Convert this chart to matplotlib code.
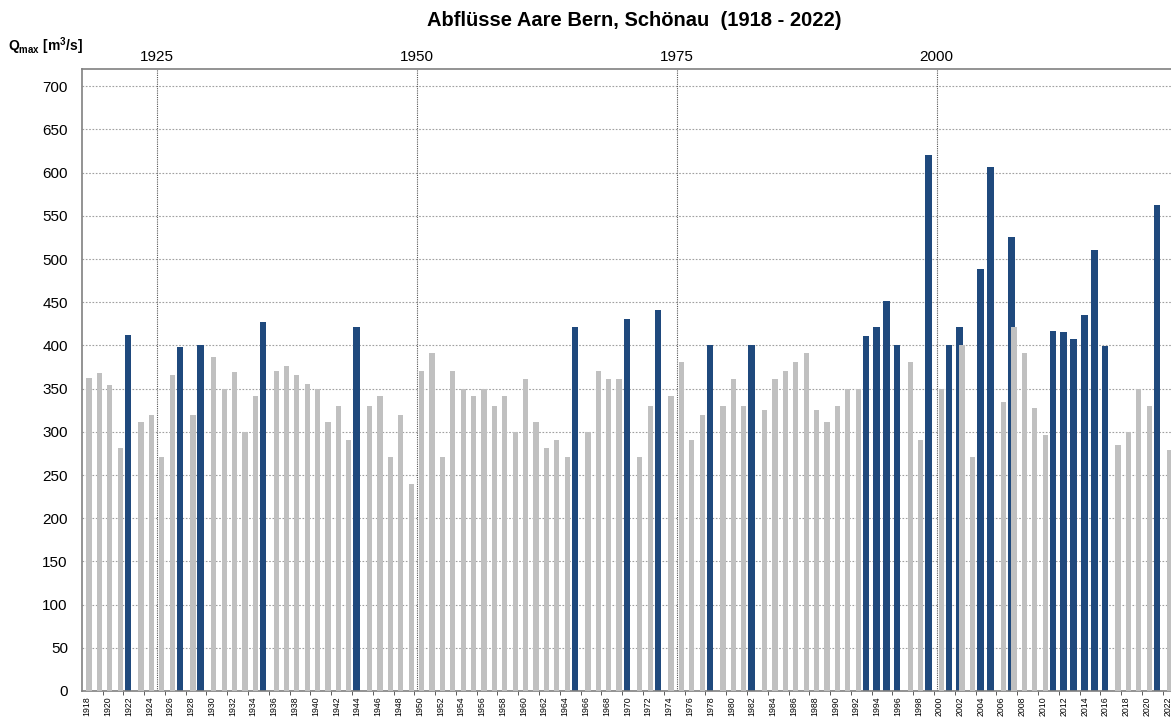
import numpy as np
import matplotlib.pyplot as plt

plt.rcParams['font.family'] = ['Liberation Sans', 'DejaVu Sans']
plt.rcParams['mathtext.fontset'] = 'custom'
plt.rcParams['mathtext.rm'] = 'Liberation Sans'
plt.rcParams['mathtext.bf'] = 'Liberation Sans:bold'

# Jahreshoechstwerte (grau) - 0 wo nur ein blauer Balken steht
years = np.arange(1918, 2023)
grey_q = [362, 368,
          354, 281, 0, 311, 320, 271, 366, 0, 320, 0,
          387, 350, 369, 300, 341, 0, 370, 376, 366, 355,
          350, 311, 330, 290, 0, 330, 341, 271, 320, 240,
          370, 391, 271, 370, 350, 341, 350, 330, 341, 300,
          361, 311, 281, 290, 271, 0, 300, 370, 361, 361,
          0, 271, 330, 0, 341, 381, 290, 320, 0, 330,
          361, 330, 0, 325, 361, 370, 381, 391, 325, 311,
          330, 350, 350, 0, 0, 0, 0, 381, 290, 0,
          350, 0, 400, 271, 0, 0, 335, 421, 391, 327,
          296, 0, 0, 0, 0, 0, 0, 285, 300, 349,
          330, 0, 279]

# Hochwasserjahre (blau)
blue_years = [1922, 1927, 1929, 1935, 1944, 1965, 1970, 1973, 1978, 1982,
              1993, 1994, 1995, 1996, 1999, 2001, 2002, 2004, 2005, 2007,
              2011, 2012, 2013, 2014, 2015, 2016, 2021]
blue_q = [412, 398, 400, 427, 421, 421, 431, 441, 401, 401,
          411, 421, 451, 401, 621, 401, 421, 489, 606, 525,
          417, 415, 407, 435, 511, 399, 563]

marker_years = [1925, 1950, 1975, 2000]

fig = plt.figure(figsize=(11.71, 7.17), dpi=100)
ax = fig.add_axes([0.0698, 0.0363, 0.9302, 0.8675])

ax.bar(np.array(blue_years) - 0.05, blue_q, width=0.64, color='#1F497D', zorder=2)
ax.bar(years + 0.2, grey_q, width=0.5, color='#C0C0C0', zorder=3)

ax.set_xlim(1917.5, 2022.3)
ax.set_ylim(0, 720)

ax.set_yticks(np.arange(0, 701, 50))
ax.yaxis.grid(True, color='#a0a0a0', linestyle=(0, (1.5, 1.5)), linewidth=0.8)
ax.set_axisbelow(True)
ax.tick_params(axis='y', length=0, pad=10, labelsize=11)

ax.set_xticks(years[::2])
ax.set_xticklabels([str(y) for y in years[::2]], rotation=90, fontsize=6.3)
ax.set_xticks(np.arange(1919.5, 2023, 2), minor=True)
ax.tick_params(axis='x', which='major', length=0, pad=4)
ax.tick_params(axis='x', which='minor', length=3, color='#404040')

for y in marker_years:
    ax.axvline(y - 0.25, color='#555555', linestyle=(0, (1, 1)), linewidth=0.8, zorder=1)
    ax.text(y - 0.25, 726, str(y), ha='center', va='bottom', fontsize=11)

for s in ['left', 'bottom', 'top']:
    ax.spines[s].set_color('#808080')
    ax.spines[s].set_linewidth(1.2)
ax.spines['right'].set_visible(False)

fig.text(0.542, 0.972, 'Abflüsse Aare Bern, Schönau  (1918 - 2022)',
         ha='center', va='center', fontsize=14.5, fontweight='bold')
fig.text(0.007, 0.935, r'$\mathbf{Q}_{\mathbf{max}}$ [m$^{\mathbf{3}}$/s]',
         ha='left', va='center', fontsize=10, fontweight='bold')

fig.savefig('out.png', dpi=100)
